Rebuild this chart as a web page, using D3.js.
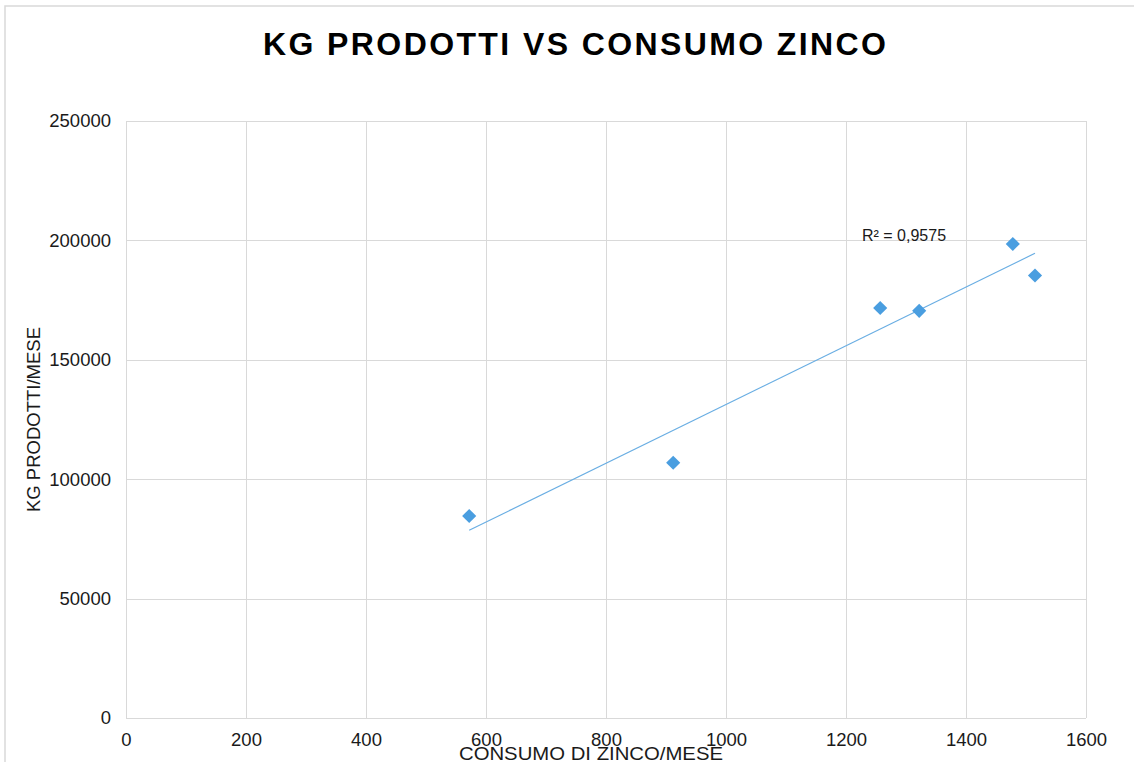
<!DOCTYPE html>
<html><head><meta charset="utf-8">
<script src="https://cdn.jsdelivr.net/npm/d3@7"></script>
<style>
html,body{margin:0;padding:0;background:#fff;}
svg{display:block;font-family:"Liberation Sans",Arial,sans-serif;}
</style></head>
<body><svg id="c" width="1134" height="762"></svg>
<script>
const zinco = [572, 912, 1257, 1322, 1478, 1515];
const kg = [84600, 106900, 171700, 170500, 198500, 185300];
const xTicks = [0, 200, 400, 600, 800, 1000, 1200, 1400, 1600];
const yTicks = [0, 50000, 100000, 150000, 200000, 250000];
const title = "KG PRODOTTI VS CONSUMO ZINCO";
const xTitle = "CONSUMO DI ZINCO/MESE";
const yTitle = "KG PRODOTTI/MESE";
const r2Label = "R² = 0,9575";

const svg = d3.select("#c");
const L = 126, R = 1086, T = 121, B = 718;
const x = d3.scaleLinear().domain([0, 1600]).range([L, R]);
const y = d3.scaleLinear().domain([0, 250000]).range([B, T]);

svg.append("rect").attr("x", 5).attr("y", 6).attr("width", 1140).attr("height", 780)
  .attr("fill", "#fff").attr("stroke", "#d9d9d9").attr("stroke-width", 1.5);

svg.append("text").attr("x", 574.5).attr("y", 55).attr("text-anchor", "middle")
  .attr("font-size", 32).attr("font-weight", "bold").attr("fill", "#000")
  .attr("textLength", 623).attr("lengthAdjust", "spacing").text(title);

// gridlines
svg.append("g").selectAll("line").data(xTicks).join("line")
  .attr("x1", d => x(d) + 0.5).attr("x2", d => x(d) + 0.5).attr("y1", T).attr("y2", B)
  .attr("stroke", "#d9d9d9").attr("stroke-width", 1);
svg.append("g").selectAll("line").data(yTicks).join("line")
  .attr("y1", d => Math.round(y(d)) + 0.5).attr("y2", d => Math.round(y(d)) + 0.5).attr("x1", L).attr("x2", R)
  .attr("stroke", "#d9d9d9").attr("stroke-width", 1);

// axes labels via d3 axes
const xAxis = svg.append("g").attr("transform", `translate(0,${B})`)
  .call(d3.axisBottom(x).tickValues(xTicks).tickSize(0).tickPadding(15).tickFormat(d3.format("d")));
const yAxis = svg.append("g").attr("transform", `translate(${L},0)`)
  .call(d3.axisLeft(y).tickValues(yTicks).tickSize(0).tickPadding(15).tickFormat(d3.format("d")));
[xAxis, yAxis].forEach(a => {
  a.select(".domain").remove();
  a.selectAll("text").attr("font-size", 18.5).attr("fill", "#1a1a1a")
    .attr("font-family", "'Liberation Sans',Arial,sans-serif");
});

// trendline (least squares)
const mx = d3.mean(zinco), my = d3.mean(kg);
let sxy = 0, sxx = 0;
zinco.forEach((v, i) => { sxy += (v - mx) * (kg[i] - my); sxx += (v - mx) ** 2; });
const slope = sxy / sxx, icpt = my - slope * mx;
const x0 = d3.min(zinco), x1 = d3.max(zinco);
svg.append("line").attr("x1", x(x0)).attr("y1", y(icpt + slope * x0))
  .attr("x2", x(x1)).attr("y2", y(icpt + slope * x1))
  .attr("stroke", "#6aaee3").attr("stroke-width", 1.2);

// markers
svg.append("g").selectAll("path").data(zinco.map((v, i) => [v, kg[i]])).join("path")
  .attr("d", d3.symbol().type(d3.symbolSquare).size(100))
  .attr("transform", d => `translate(${x(d[0])},${y(d[1])}) rotate(45)`)
  .attr("fill", "#4a9ee0");

svg.append("text").attr("x", 862).attr("y", 241).attr("font-size", 16).attr("fill", "#1a1a1a").text(r2Label);

svg.append("text").attr("x", 591).attr("y", 760).attr("text-anchor", "middle")
  .attr("font-size", 18.5).attr("fill", "#1a1a1a").attr("textLength", 264).attr("lengthAdjust", "spacingAndGlyphs").text(xTitle);
svg.append("text").attr("transform", `translate(40,${(T + B) / 2}) rotate(-90)`).attr("text-anchor", "middle")
  .attr("font-size", 18.5).attr("fill", "#1a1a1a").attr("textLength", 185).attr("lengthAdjust", "spacingAndGlyphs").text(yTitle);
</script></body></html>
